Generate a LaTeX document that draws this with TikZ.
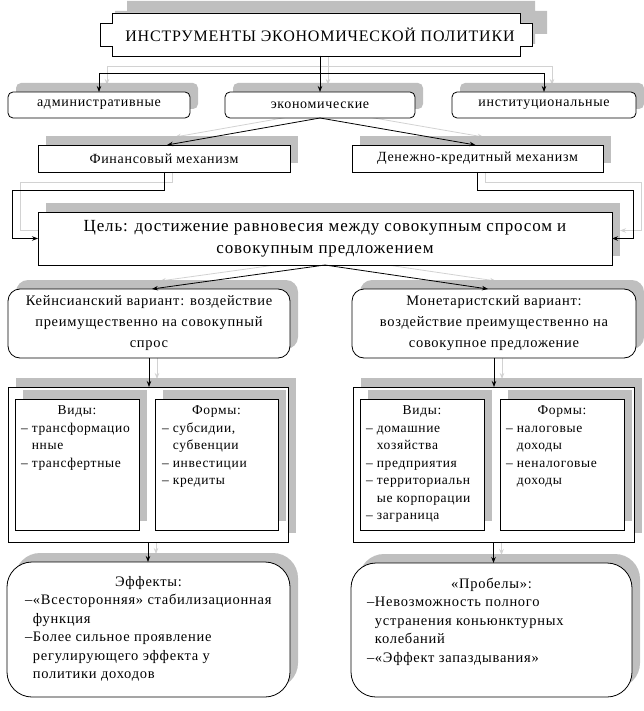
\documentclass[tikz,border=0pt]{standalone}
\usepackage{fontspec}
\setmainfont{Liberation Serif}[LetterSpace=5]
\usetikzlibrary{arrows.meta,shadows,calc}
\pgfdeclarelayer{bg}
\pgfsetlayers{bg,main}
\newcommand\ftitle{\fontsize{16}{18}\selectfont}
\newcommand\flab{\fontsize{14}{16}\selectfont}
\newcommand\fgoal{\fontsize{17}{22}\selectfont}
\newcommand\fvar{\fontsize{14.5}{21}\selectfont}
\newcommand\flist{\fontsize{13.5}{17.5}\selectfont}
\newcommand\feff{\fontsize{14.5}{18.5}\selectfont}
\newcommand\dshA{\makebox[0.8em][l]{–}}
\newcommand\indA{\hspace*{0.8em}}
\newcommand\dshB{\makebox[0.55em][l]{–}}
\newcommand\indB{\hspace*{0.55em}}
\tikzset{
  base/.style={draw=black, line width=0.8pt, fill=white, align=center, inner sep=0pt, outer sep=0pt},
  shd/.style={drop shadow={shadow xshift=8pt, shadow yshift=9pt, fill=gray!50, opacity=1}},
  rbox/.style={base, shd, rounded corners=5pt, font=\flab},
  sbox/.style={base, shd},
  vbox/.style={base, shd, rounded corners=12pt, font=\fvar},
  ebox/.style={base, shd, rounded corners=25pt},
  txt/.style={inner sep=0pt, outer sep=0pt, align=left, anchor=north west},
  arr/.style={line width=0.8pt, -{Stealth[length=6pt,width=4.5pt]}},
  garr/.style={line width=0.8pt, draw=gray!35, -{Stealth[length=6pt,width=4.5pt]}},
}
\begin{document}
\begin{tikzpicture}[x=1pt,y=-1pt]
\useasboundingbox (0,0) rectangle (643,711);
% title plaque
\node[inner sep=0pt, outer sep=0pt, minimum width=432pt, minimum height=43pt] (title) at (316,34.5) {};
\begin{scope}[transform canvas={xshift=15pt,yshift=12pt}]
\fill[gray!50] ([xshift=12pt]title.north west) -- ([xshift=-12pt]title.north east) -- ++(0,10) -- ++(12,0)
  -- ([yshift=10pt]title.south east) -- ++(-12,0) -- ++(0,10) -- ([xshift=12pt]title.south west)
  -- ++(0,-10) -- ++(-12,0) -- ([yshift=-10pt]title.north west) -- ++(12,0) -- cycle;
\end{scope}
\draw[line width=0.8pt, fill=white] ([xshift=12pt]title.north west) -- ([xshift=-12pt]title.north east) -- ++(0,10) -- ++(12,0)
  -- ([yshift=10pt]title.south east) -- ++(-12,0) -- ++(0,10) -- ([xshift=12pt]title.south west)
  -- ++(0,-10) -- ++(-12,0) -- ([yshift=-10pt]title.north west) -- ++(12,0) -- cycle;
\node[inner sep=0pt, font=\ftitle] (titletext) at ([xshift=4pt]title.center) {ИНСТРУМЕНТЫ ЭКОНОМИЧЕСКОЙ ПОЛИТИКИ};
% level 2
\node[rbox, minimum width=182pt, minimum height=26pt] (admin) at (99,105) {административные};
\node[rbox, minimum width=190pt, minimum height=26pt] (econ) at (320,105) {экономические};
\node[rbox, minimum width=184pt, minimum height=26pt] (inst) at (544,105) {институциональные};
% level 3
\node[sbox, font=\flab, minimum width=252pt, minimum height=27pt] (fin) at (164,158.5) {Финансовый механизм};
\node[sbox, font=\flab, minimum width=251pt, minimum height=27pt] (den) at (477.5,158.5) {Денежно-кредитный механизм};
% goal
\node[sbox, font=\fgoal, minimum width=574pt, minimum height=53pt] (goal) at (325,238.5) {Цель: достижение равновесия между совокупным спросом и\\совокупным предложением};
% variants
\node[vbox, minimum width=282pt, minimum height=69pt] (keyn) at (149,323.5) {Кейнсианский вариант: воздействие\\преимущественно на совокупный\\спрос};
\node[vbox, minimum width=284pt, minimum height=69pt] (monet) at (494,323.5) {Монетаристский вариант:\\воздействие преимущественно на\\совокупное предложение};
% outer + inner boxes
\node[sbox, minimum width=280pt, minimum height=155pt] (outerL) at (148,464.5) {};
\node[sbox, minimum width=124pt, minimum height=131pt] (vidL) at (77,464.5) {};
\node[sbox, minimum width=123pt, minimum height=131pt] (formL) at (216.5,464.5) {};
\node[sbox, minimum width=281pt, minimum height=155pt] (outerR) at (493.5,464.5) {};
\node[sbox, minimum width=124pt, minimum height=131pt] (vidR) at (422,464.5) {};
\node[sbox, minimum width=124pt, minimum height=131pt] (formR) at (562,464.5) {};
\node[txt, font=\flist] (vidLt) at ([xshift=6pt,yshift=-7pt]vidL.north west) {\makebox[112pt]{Виды:}\\\dshA трансформацио\\\indA нные\\\dshA трансфертные};
\node[txt, font=\flist] (formLt) at ([xshift=7pt,yshift=-7pt]formL.north west) {\makebox[109pt]{Формы:}\\\dshA субсидии,\\\indA субвенции\\\dshA инвестиции\\\dshA кредиты};
\node[txt, font=\flist] (vidRt) at ([xshift=6pt,yshift=-7pt]vidR.north west) {\makebox[112pt]{Виды:}\\\dshA домашние\\\indA хозяйства\\\dshA предприятия\\\dshA территориальн\\\indA ые корпорации\\\dshA заграница};
\node[txt, font=\flist] (formRt) at ([xshift=6pt,yshift=-7pt]formR.north west) {\makebox[112pt]{Формы:}\\\dshA налоговые\\\indA доходы\\\dshA неналоговые\\\indA доходы};
% effects
\node[ebox, minimum width=283pt, minimum height=135pt] (effL) at (148.5,629.5) {};
\node[ebox, minimum width=281pt, minimum height=134pt] (effR) at (491.5,630) {};
\node[txt, font=\feff] (effLt) at ([xshift=18pt,yshift=-14pt]effL.north west) {\makebox[247pt]{Эффекты:}\\\dshB«Всесторонняя» стабилизационная\\\indB функция\\\dshB Более сильное проявление\\\indB регулирующего эффекта у\\\indB политики доходов};
\node[txt, font=\feff] (effRt) at ([xshift=16pt,yshift=-15pt]effR.north west) {\makebox[249pt]{«Пробелы»:}\\\dshB Невозможность полного\\\indB устранения коньюнктурных\\\indB колебаний\\\dshB«Эффект запаздывания»};
% gray twin connectors
\begin{pgfonlayer}{bg}
\begin{scope}[transform canvas={xshift=8pt,yshift=7pt}]
\draw[garr] (title.south -| econ.north) -- (econ.north);
\draw[garr] (title.south -| econ.north) -- ++(0,17) -| (admin.north);
\draw[garr] (title.south -| econ.north) -- ++(0,17) -| (inst.north);
\end{scope}
\begin{scope}[transform canvas={xshift=8pt,yshift=8pt}]
\draw[garr] (econ.south) -- ([xshift=3pt]fin.north);
\draw[garr] (econ.south) -- ([xshift=-2pt]den.north);
\draw[garr] (fin.south) -- ++(0,18) -| ([xshift=-26pt]goal.west) -- (goal.west);
\draw[garr] (den.south) -- ++(0,18) -| ([xshift=21pt]goal.east) -- (goal.east);
\draw[garr] (goal.south) -- ([xshift=3pt]keyn.north);
\draw[garr] (goal.south) -- ([xshift=-6pt]monet.north);
\draw[garr] (keyn.south) -- (keyn.south |- outerL.north);
\draw[garr] (monet.south) -- (monet.south |- outerR.north);
\draw[garr] (outerL.south) -- (outerL.south |- effL.north);
\draw[garr] (outerR.south) -- (outerR.south |- effR.north);
\end{scope}
\end{pgfonlayer}
% black connectors
\draw[arr] (title.south -| econ.north) -- (econ.north);
\draw[arr] (title.south -| econ.north) -- ++(0,17) -| (admin.north);
\draw[arr] (title.south -| econ.north) -- ++(0,17) -| (inst.north);
\draw[arr] (econ.south) -- ([xshift=3pt]fin.north);
\draw[arr] (econ.south) -- ([xshift=-2pt]den.north);
\draw[arr] (fin.south) -- ++(0,18) -| ([xshift=-26pt]goal.west) -- (goal.west);
\draw[arr] (den.south) -- ++(0,18) -| ([xshift=21pt]goal.east) -- (goal.east);
\draw[arr] (goal.south) -- ([xshift=3pt]keyn.north);
\draw[arr] (goal.south) -- ([xshift=-6pt]monet.north);
\draw[arr] (keyn.south) -- (keyn.south |- outerL.north);
\draw[arr] (monet.south) -- (monet.south |- outerR.north);
\draw[arr] (outerL.south) -- (outerL.south |- effL.north);
\draw[arr] (outerR.south) -- (outerR.south |- effR.north);
\end{tikzpicture}
\end{document}
